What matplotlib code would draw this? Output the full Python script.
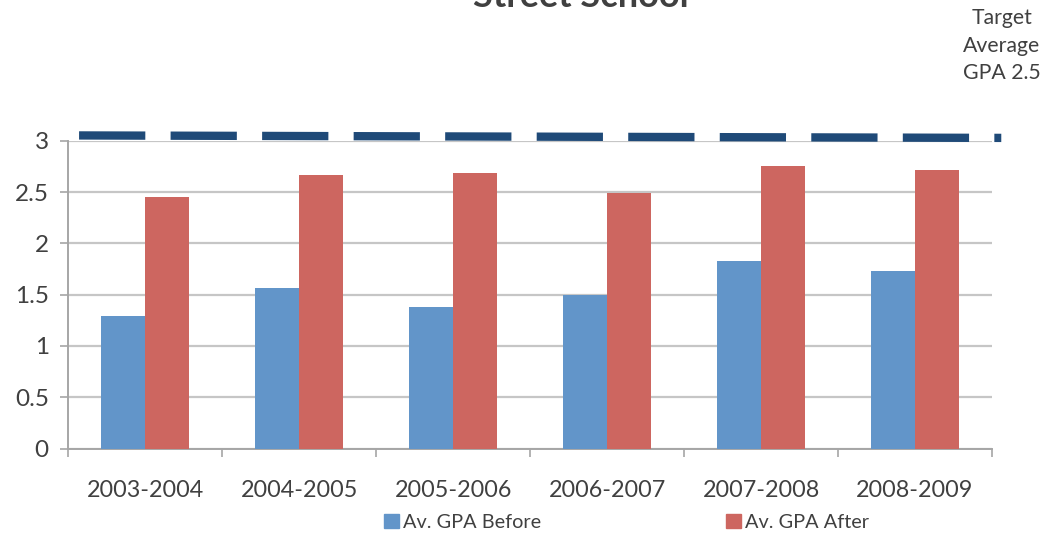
import matplotlib
matplotlib.use("Agg")
import matplotlib.pyplot as plt
import numpy as np
from matplotlib.patches import Patch

categories = ["2003-2004", "2004-2005", "2005-2006", "2006-2007", "2007-2008", "2008-2009"]
gpa_before = [1.29, 1.565, 1.38, 1.50, 1.833, 1.732]
gpa_after = [2.458, 2.664, 2.683, 2.495, 2.755, 2.713]
series_names = ["Av. GPA Before", "Av. GPA After"]
target_x = [-0.43, 5.56]
target_y = [3.054, 3.03]
target_label = "Target\nAverage\nGPA 2.5"
title_text = "Street School"
yticks = [0, 0.5, 1, 1.5, 2, 2.5, 3]
ytick_labels = ["0", "0.5", "1", "1.5", "2", "2.5", "3"]

BLUE = "#6295C9"
RED = "#CD6660"
NAVY = "#1F4A78"
TXT = "#404040"
plt.rcParams["font.family"] = ["Lato", "DejaVu Sans"]
plt.rcParams["lines.scale_dashes"] = False

fig = plt.figure(figsize=(10.49, 5.34), dpi=100)
ax = fig.add_axes([0.0651, 0.1601, 0.9457 - 0.0651, 0.736 - 0.1601])

x = np.arange(len(categories))
w = 1 / 3.5
ax.bar(x - w / 2, gpa_before, width=w, color=BLUE, zorder=3)
ax.bar(x + w / 2, gpa_after, width=w, color=RED, zorder=3)

ax.plot(target_x, target_y, color=NAVY, lw=6, dashes=(47.7, 18.2),
        solid_capstyle="butt", dash_capstyle="butt", clip_on=False, zorder=4)

ax.set_xlim(-0.5, len(categories) - 0.5)
ax.set_ylim(0, 3)
ax.set_yticks(yticks)
ax.set_yticklabels(ytick_labels)
ax.yaxis.grid(True, color="#c6c6c6", lw=1.6, zorder=0)
ax.set_axisbelow(True)

ax.set_xticks(np.arange(-0.5, len(categories), 1.0))
ax.set_xticklabels([])
ax.set_xticks(x, minor=True)
ax.set_xticklabels(categories, minor=True)
ax.tick_params(axis="x", which="major", length=6, width=1.2, color="#a6a6a6", direction="out")
ax.tick_params(axis="x", which="minor", length=0, pad=23, labelsize=16.8, labelcolor=TXT)
ax.tick_params(axis="y", length=6, width=1.2, color="#a6a6a6", pad=8, labelsize=17.5, labelcolor=TXT)

for s in ["top", "right"]:
    ax.spines[s].set_visible(False)
for s in ["left", "bottom"]:
    ax.spines[s].set_color("#a6a6a6")
    ax.spines[s].set_linewidth(1.4)

handles = [Patch(color=BLUE, label=series_names[0]), Patch(color=RED, label=series_names[1])]
leg = fig.legend(handles=handles, loc="center", bbox_to_anchor=(0.597, 0.022), ncol=2,
                 frameon=False, fontsize=14.3, handlelength=0.75, handleheight=0.75,
                 handletextpad=0.2, columnspacing=9.3, borderaxespad=0)
for t in leg.get_texts():
    t.set_color(TXT)

fig.text(1002 / 1049, 1 - 45.5 / 534, target_label, ha="center", va="center", fontsize=15.3,
         color=TXT, linespacing=1.45)

fig.text(0.554, 1 - 7 / 534, title_text, ha="center", va="baseline", fontsize=26,
         fontweight="bold", color=TXT)

fig.savefig("out.png", dpi=100)
